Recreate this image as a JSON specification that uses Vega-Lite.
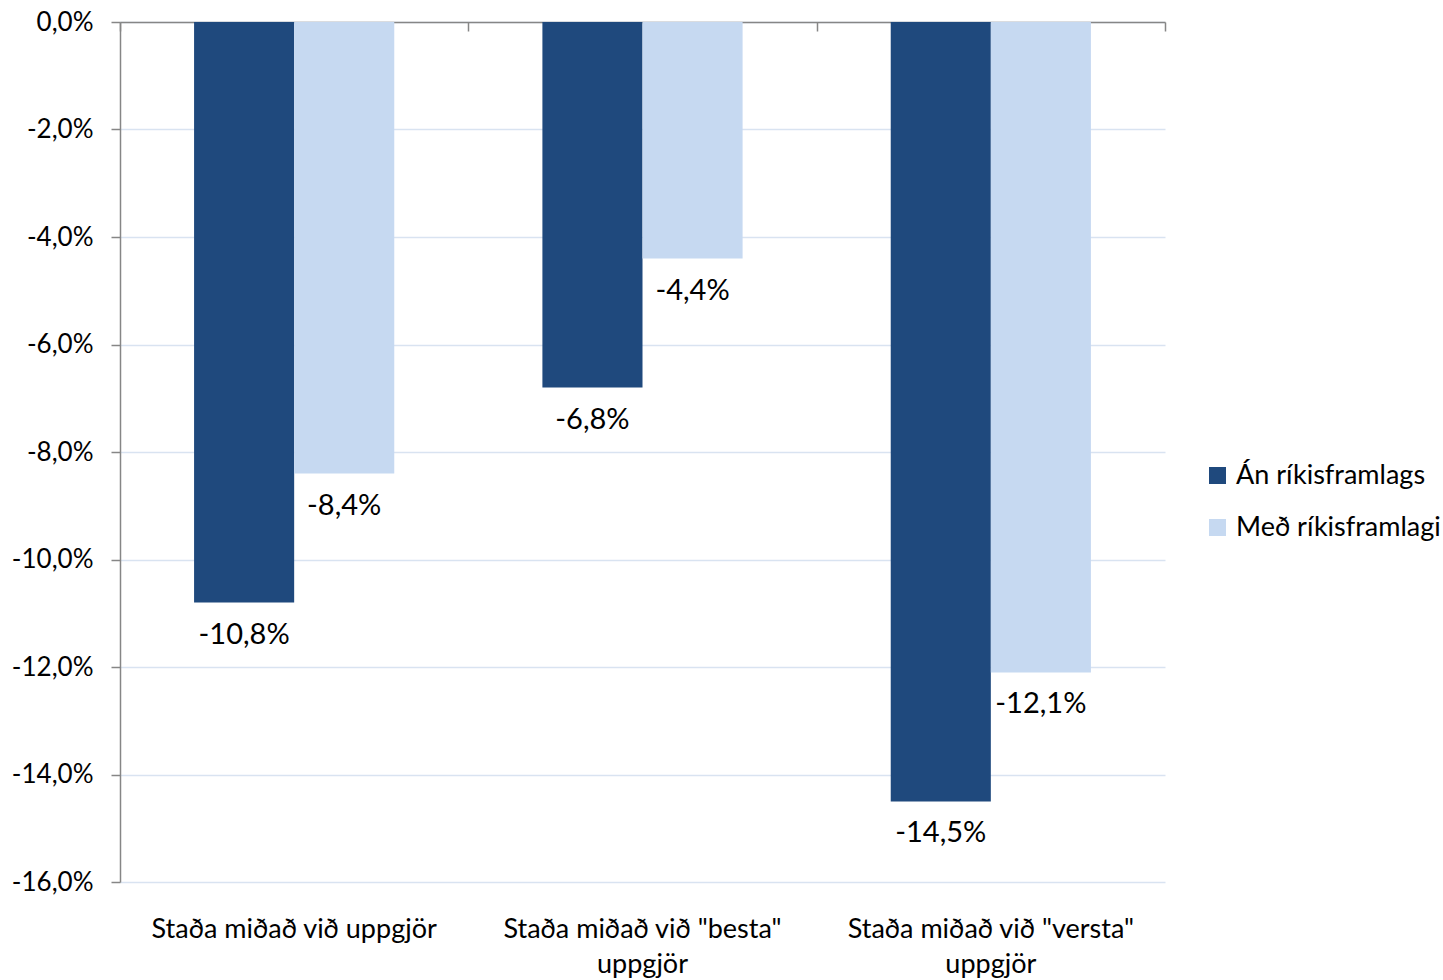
{
  "$schema": "https://vega.github.io/schema/vega-lite/v6.json",
  "autosize": "none",
  "width": 1045,
  "height": 860,
  "padding": {"left": 120, "top": 22, "right": 278, "bottom": 98},
  "background": "white",
  "config": {
    "font": "Lato",
    "view": {"stroke": null},
    "locale": {"number": {"decimal": ",", "thousands": ".", "grouping": [3], "currency": ["", " kr."], "minus": "-"}}
  },
  "data": {
    "values": [
      {"stada": "Staða miðað við uppgjör", "rod": 1, "flokkur": "Án ríkisframlags", "gildi": -0.108},
      {"stada": "Staða miðað við uppgjör", "rod": 2, "flokkur": "Með ríkisframlagi", "gildi": -0.084},
      {"stada": "Staða miðað við \"besta\" uppgjör", "rod": 1, "flokkur": "Án ríkisframlags", "gildi": -0.068},
      {"stada": "Staða miðað við \"besta\" uppgjör", "rod": 2, "flokkur": "Með ríkisframlagi", "gildi": -0.044},
      {"stada": "Staða miðað við \"versta\" uppgjör", "rod": 1, "flokkur": "Án ríkisframlags", "gildi": -0.145},
      {"stada": "Staða miðað við \"versta\" uppgjör", "rod": 2, "flokkur": "Með ríkisframlagi", "gildi": -0.121}
    ]
  },
  "encoding": {
    "y": {
      "field": "gildi", "type": "quantitative",
      "scale": {"domain": [-0.16, 0], "nice": false, "zero": false},
      "axis": {
        "title": null, "format": ".1%", "values": [0, -0.02, -0.04, -0.06, -0.08, -0.1, -0.12, -0.14, -0.16],
        "domainColor": "#868686", "domainWidth": 1.5, "tickColor": "#868686", "tickSize": 9, "tickWidth": 1.5,
        "gridColor": "#D9E3F1", "gridWidth": 1.5,
        "labelFontSize": 26, "labelColor": "#000000", "labelPadding": 18, "labelFont": "Lato"
      }
    },
    "xOffset": {"field": "rod", "type": "nominal", "scale": {"paddingOuter": 0.74, "paddingInner": 0}}
  },
  "layer": [
    {
      "mark": {"type": "bar"},
      "encoding": {
        "x": {
          "field": "stada", "type": "nominal", "sort": null,
          "scale": {"paddingInner": 0, "paddingOuter": 0},
          "axis": {
            "orient": "top", "title": null, "labels": false, "grid": false,
            "domainColor": "#868686", "domainWidth": 1.5, "tickColor": "#868686", "tickWidth": 1.5,
            "tickSize": -9, "tickBand": "extent"
          }
        },
        "color": {
          "field": "flokkur", "type": "nominal", "sort": null,
          "scale": {"domain": ["Án ríkisframlags", "Með ríkisframlagi"], "range": ["#1F497D", "#C6D9F1"]},
          "legend": {
            "title": null, "orient": "none", "legendX": 1084, "legendY": 440,
            "symbolType": "square", "symbolSize": 290, "symbolStrokeWidth": 0,
            "labelFontSize": 27, "labelFont": "Lato", "labelColor": "#000000", "labelOffset": 5,
            "rowPadding": 24, "labelLimit": 400
          }
        }
      }
    },
    {
      "mark": {"type": "text", "baseline": "middle", "dy": 32, "fontSize": 29, "font": "Lato", "color": "#000000"},
      "encoding": {
        "x": {
          "field": "stada", "type": "nominal", "sort": null,
          "scale": {"paddingInner": 0, "paddingOuter": 0},
          "axis": {
            "orient": "bottom", "title": null, "domain": false, "ticks": false, "grid": false,
            "labelFontSize": 27, "labelFont": "Lato", "labelColor": "#000000", "labelPadding": 34,
            "labelLineHeight": 35, "labelLimit": 400, "labelAngle": 0,
            "labelExpr": "datum.label == 'Staða miðað við uppgjör' ? datum.label : [slice(datum.label, 0, -8), 'uppgjör']"
          }
        },
        "text": {"field": "gildi", "type": "quantitative", "format": ".1%"}
      }
    }
  ],
  "resolve": {"axis": {"x": "independent"}}
}
